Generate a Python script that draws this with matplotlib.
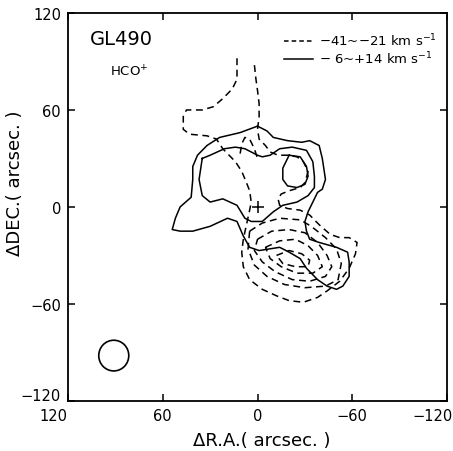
import numpy as np
import matplotlib
matplotlib.use("Agg")
import matplotlib.pyplot as plt
from matplotlib.patches import Circle
from matplotlib.lines import Line2D
from matplotlib.transforms import ScaledTranslation

# contours traced from the map, (dRA, dDEC) in arcsec
# solid: -6 ~ +14 km/s
solid_outer = [(0, 50), (-6, 47), (-10, 43), (-19, 41), (-28, 40), (-33, 41), (-39, 38),
               (-41, 30), (-43, 17), (-41, 11), (-38, 9), (-35, 3), (-32, -3), (-30, -9),
               (-31, -15), (-33, -20), (-39, -22), (-50, -25), (-57, -28), (-58, -34),
               (-58, -43), (-54, -49), (-50, -51), (-44, -49), (-38, -45), (-31, -38),
               (-27, -32), (-20, -28), (-14, -25), (-1, -27), (5, -25), (9, -18), (13, -9),
               (19, -7), (30, -12), (41, -15), (49, -15), (54, -14), (52, -7), (49, 0),
               (42, 6), (41, 17), (41, 25), (38, 32), (32, 38), (24, 43), (11, 46), (0, 50)]
solid_inner = [(35, 30), (30, 32), (21, 36), (14, 37), (8, 36), (0, 32), (-3, 31), (-8, 32),
               (-14, 36), (-22, 37), (-31, 35), (-35, 28), (-36, 19), (-36, 12), (-32, 7),
               (-25, 3), (-16, 1), (-10, -3), (-3, -9), (4, -9), (8, -7), (13, 1), (22, 5),
               (30, 3), (35, 7), (37, 17), (35, 30)]
solid_peak = [(-20, 32), (-27, 31), (-31, 25), (-32, 19), (-30, 14), (-25, 12), (-19, 13),
              (-16, 17), (-16, 24), (-18, 28), (-20, 32)]

# dashed: -41 ~ -21 km/s
dash_outer = [(13, 92), (13, 79), (16, 73), (22, 67), (28, 62), (35, 60), (45, 60), (47, 56),
              (47, 48), (43, 45), (32, 44), (26, 42), (22, 36), (19, 33), (14, 28), (10, 22),
              (7, 15), (5, 10), (4, 3), (5, -2), (7, -11), (9, -20), (10, -28), (9, -37),
              (5, -45), (-3, -51), (-12, -55), (-20, -58), (-29, -59), (-38, -56), (-44, -52),
              (-52, -46), (-58, -38), (-62, -29), (-63, -22), (-58, -19), (-52, -19),
              (-46, -17), (-39, -11), (-33, -5), (-27, -2), (-19, -1), (-14, 1), (-13, 5),
              (-15, 8), (-20, 10), (-27, 12), (-30, 15), (-32, 22), (-29, 28), (-25, 31),
              (-19, 32), (-13, 32), (-8, 34), (-5, 38), (-1, 42), (0, 48), (-1, 56), (-1, 64),
              (0, 72), (1, 79), (2, 88)]
dash_arc = [(11, 33), (10, 39), (8, 43), (5, 42), (2, 36), (0, 30)]
dash_l2 = [(5, -15), (-3, -10), (-14, -7), (-27, -8), (-34, -12), (-43, -19), (-50, -26),
           (-53, -35), (-51, -45), (-43, -49), (-30, -50), (-17, -48), (-6, -43), (2, -36),
           (6, -26), (5, -15)]
dash_l3 = [(0, -20), (-9, -15), (-20, -14), (-30, -16), (-38, -22), (-44, -30), (-47, -37),
           (-43, -43), (-33, -46), (-22, -45), (-11, -40), (-3, -34), (2, -27), (0, -20)]
dash_l4 = [(-5, -25), (-14, -21), (-24, -20), (-32, -24), (-38, -30), (-41, -37), (-35, -41),
           (-25, -41), (-15, -37), (-8, -32), (-5, -25)]
dash_l5 = [(-12, -30), (-20, -27), (-28, -29), (-33, -33), (-32, -37), (-24, -37), (-16, -35),
           (-12, -30)]

solid_lines = [solid_outer, solid_inner, solid_peak]
dashed_lines = [dash_outer, dash_arc, dash_l2, dash_l3, dash_l4, dash_l5]

beam_pos = (91, -92)
beam_radius = 9.5

ticks = [-120, -60, 0, 60, 120]

fig = plt.figure(figsize=(4.53, 4.52), dpi=100)
ax = fig.add_axes([0.150, 0.111, 0.837, 0.858])

dash_style = (0, (4.5, 3))
for c in solid_lines:
    c = np.array(c)
    ax.plot(c[:, 0], c[:, 1], color='black', lw=1.1, solid_joinstyle='round')
for c in dashed_lines:
    c = np.array(c)
    ax.plot(c[:, 0], c[:, 1], color='black', lw=1.1, linestyle=dash_style)

ax.plot([0], [0], marker='+', color='black', markersize=9, mew=1.1)
ax.add_patch(Circle(beam_pos, beam_radius, fill=False, ec='black', lw=1.2))

ax.set_xlim(120, -120)
ax.set_ylim(-120, 120)
ax.set_xticks(ticks)
ax.set_yticks(ticks)
ax.tick_params(direction='in', top=True, right=True, length=5, width=1.1,
               labelsize=10.5, pad=5)
for s in ax.spines.values():
    s.set_linewidth(1.3)

# end labels sit a bit off their ticks in the original
fig.canvas.draw()
xlabels = ax.get_xticklabels()
xlabels[0].set_transform(xlabels[0].get_transform() + ScaledTranslation(-0.15, 0, fig.dpi_scale_trans))
xlabels[-1].set_transform(xlabels[-1].get_transform() + ScaledTranslation(-0.15, 0, fig.dpi_scale_trans))
ylabels = ax.get_yticklabels()
ylabels[0].set_transform(ylabels[0].get_transform() + ScaledTranslation(0, 0.07, fig.dpi_scale_trans))

ax.set_xlabel('ΔR.A.( arcsec. )', fontsize=13)
ax.set_ylabel('ΔDEC.( arcsec. )', fontsize=13)
ax.xaxis.set_label_coords(0.512, -0.078)
ax.yaxis.set_label_coords(-0.117, 0.564)

ax.text(0.058, 0.933, 'GL490', transform=ax.transAxes, fontsize=14, ha='left', va='center')
ax.text(0.11, 0.85, 'HCO$^{+}$', transform=ax.transAxes, fontsize=9.5, ha='left', va='center')

handles = [Line2D([], [], color='black', lw=1.1, linestyle=(0, (3, 2))),
           Line2D([], [], color='black', lw=1.1)]
labels = ['−41~−21 km s$^{-1}$', '− 6~+14 km s$^{-1}$']
ax.legend(handles, labels, loc='upper right', frameon=False, fontsize=9.5,
          handlelength=2.2, handletextpad=0.4, labelspacing=0.1,
          borderaxespad=0.4, bbox_to_anchor=(1.0, 0.978))

fig.savefig('out.png', dpi=100)
